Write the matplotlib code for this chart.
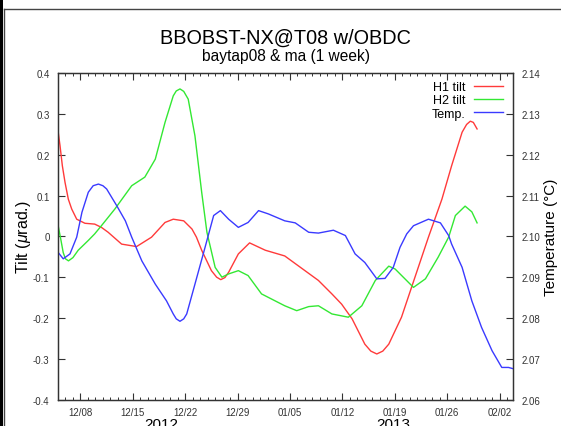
import datetime

import numpy as np
import matplotlib
matplotlib.use('Agg')
import matplotlib.pyplot as plt
import matplotlib.dates as mdates
from matplotlib.lines import Line2D
from matplotlib.patches import Rectangle

plt.rcParams['font.family'] = ['Liberation Sans', 'DejaVu Sans']
plt.rcParams['mathtext.fontset'] = 'custom'
plt.rcParams['mathtext.it'] = 'Liberation Sans:italic'
plt.rcParams['mathtext.rm'] = 'Liberation Sans'

START = datetime.datetime(2012, 12, 5)

# days after 12/05 00:00
h1_days = [0.0, 0.27, 0.58, 0.94, 1.38, 1.83, 2.5, 3.6, 4.9, 5.8, 6.7, 8.5, 10.5,
           12.5, 14.3, 15.4, 16.8, 17.9, 18.5, 19.2, 20.5, 21.2, 21.75, 22.3, 22.8,
           24.1, 25.6, 27.7, 30.3, 33.0, 34.8, 36.6, 37.9, 39.3, 41.0, 41.8, 42.6,
           43.4, 44.2, 45.9, 47.7, 49.5, 51.3, 52.6, 54.0, 54.6, 55.1, 55.5, 56.0]
h1_tilt = [0.259, 0.222, 0.173, 0.132, 0.091, 0.067, 0.042, 0.032, 0.030, 0.022,
           0.010, -0.019, -0.025, -0.002, 0.034, 0.042, 0.038, 0.018, -0.002, -0.034,
           -0.084, -0.100, -0.106, -0.101, -0.088, -0.043, -0.016, -0.034, -0.048,
           -0.084, -0.108, -0.141, -0.166, -0.202, -0.264, -0.281, -0.288, -0.281,
           -0.264, -0.198, -0.100, -0.002, 0.091, 0.173, 0.255, 0.274, 0.282, 0.279,
           0.263]

h2_days = [0.0, 0.35, 0.7, 1.0, 1.4, 2.0, 2.7, 4.05, 4.9, 5.8, 7.6, 9.85, 11.6,
           13.0, 14.3, 15.4, 15.8, 16.3, 16.8, 17.4, 18.3, 19.2, 19.9, 21.0, 21.9,
           22.8, 24.1, 25.4, 27.2, 30.3, 31.9, 33.5, 34.8, 36.6, 38.8, 40.6, 42.4,
           44.2, 45.05, 47.5, 49.1, 50.8, 52.2, 53.1, 54.4, 55.3, 56.0]
h2_tilt = [0.028, -0.005, -0.040, -0.055, -0.060, -0.052, -0.034, -0.010, 0.006,
           0.026, 0.067, 0.124, 0.145, 0.189, 0.279, 0.344, 0.356, 0.361, 0.355,
           0.336, 0.246, 0.108, 0.010, -0.076, -0.100, -0.092, -0.084, -0.096,
           -0.141, -0.170, -0.182, -0.172, -0.170, -0.190, -0.198, -0.170, -0.108,
           -0.073, -0.080, -0.125, -0.104, -0.051, -0.002, 0.051, 0.074, 0.060, 0.033]

temp_days = [0.0, 0.7, 1.6, 2.5, 3.2, 4.05, 4.7, 5.4, 6.0, 6.5, 7.85, 9.0, 9.85,
             11.2, 13.0, 14.5, 15.4, 15.8, 16.3, 16.8, 17.2, 18.3, 19.65, 20.8, 21.7,
             22.8, 24.1, 25.4, 26.8, 28.1, 30.3, 31.7, 33.5, 34.8, 36.8, 38.4, 39.7,
             41.0, 42.6, 43.7, 44.8, 45.7, 46.6, 47.5, 49.5, 51.1, 52.2, 52.6, 54.0,
             55.3, 56.6, 58.0, 59.3, 60.2, 60.8]
temp_c = [2.0961, 2.0945, 2.0957, 2.0998, 2.1059, 2.1108, 2.1124, 2.1128, 2.1124,
          2.1116, 2.1075, 2.1038, 2.0998, 2.0940, 2.0883, 2.0842, 2.0810, 2.0798,
          2.0792, 2.0798, 2.0810, 2.0883, 2.0973, 2.1051, 2.1063, 2.1042, 2.1022,
          2.1034, 2.1063, 2.1055, 2.1038, 2.1033, 2.1010, 2.1008, 2.1015, 2.1002,
          2.0957, 2.0936, 2.0896, 2.0897, 2.0924, 2.0973, 2.1006, 2.1026, 2.1042,
          2.1033, 2.1002, 2.0981, 2.0924, 2.0842, 2.0777, 2.0720, 2.0679, 2.0679,
          2.0676]

W, H = 561, 427


def to_dates(days):
    return [START + datetime.timedelta(days=d) for d in days]


fig = plt.figure(figsize=(W / 100, H / 100), dpi=100)
fig.subplots_adjust(left=58 / W, right=513 / W, top=1 - 74 / H, bottom=1 - 400.7 / H)
ax = fig.add_subplot(111)
ax2 = ax.twinx()

l1, = ax.plot(to_dates(h1_days), h1_tilt, color='#ff3a3a', lw=1, label='H1 tilt')
l2, = ax.plot(to_dates(h2_days), h2_tilt, color='#33e833', lw=1, label='H2 tilt')
l3, = ax2.plot(to_dates(temp_days), temp_c, color='#3a3aff', lw=1, label='Temp.')

ax.set_xlim(START, START + datetime.timedelta(days=60.8))
ax.set_ylim(-0.4, 0.4)
ax2.set_ylim(2.06, 2.14)
ax.set_yticks(np.arange(-0.4, 0.41, 0.1))
ax.set_yticklabels(['-0.4', '-0.3', '-0.2', '-0.1', '0', '0.1', '0.2', '0.3', '0.4'])
ax2.set_yticks([2.06, 2.07, 2.08, 2.09, 2.10, 2.11, 2.12, 2.13, 2.14])
ax2.set_yticklabels(['2.06', '2.07', '2.08', '2.09', '2.10', '2.11', '2.12', '2.13', '2.14'])

ax.xaxis.set_major_locator(mdates.WeekdayLocator(byweekday=mdates.SA))
ax.xaxis.set_minor_locator(mdates.DayLocator())
ax.xaxis.set_major_formatter(mdates.DateFormatter('%m/%d'))

for a in (ax, ax2):
    for s in a.spines.values():
        s.set_color('#333333')
        s.set_linewidth(0.9)
ax.tick_params(axis='x', which='major', direction='in', length=5, width=0.8,
               top=True, labelsize=7, colors='#333333', pad=5)
ax.tick_params(axis='x', which='minor', direction='in', length=2.5, width=0.7,
               top=True, colors='#333333')
ax.tick_params(axis='y', direction='in', length=5, width=0.8, right=False,
               labelsize=7, colors='#333333', pad=6)
ax2.tick_params(axis='y', direction='in', length=5, width=0.8,
                labelsize=7, colors='#333333', pad=6)

ax.set_ylabel('Tilt ($\\mu$rad.)', fontsize=11.5, labelpad=0)
ax2.set_ylabel('Temperature (°C)', fontsize=11, labelpad=3)

ax.legend([l1, l2, l3], ['H1 tilt', 'H2 tilt', 'Temp.'], loc='upper right',
          frameon=False, markerfirst=False, fontsize=9, handlelength=2.3,
          handletextpad=0.7, labelspacing=0.1, borderaxespad=0.25,
          bbox_to_anchor=(0.995, 1.0))

fig.text(285.5 / W, 1 - 38 / H, 'BBOBST-NX@T08 w/OBDC', ha='center', va='center', fontsize=14.3)
fig.text(285.5 / W, 1 - 57 / H, 'baytap08 & ma (1 week)', ha='center', va='center', fontsize=11.2)
fig.text(161 / W, 1 - 418 / H, '2012', ha='center', va='top', fontsize=11)
fig.text(393 / W, 1 - 418 / H, '2013', ha='center', va='top', fontsize=11)

# border of the original window
fig.add_artist(Rectangle((0, 0), 2.5 / W, 1, transform=fig.transFigure,
                         color='black', lw=0))
fig.add_artist(Line2D([3.5 / W, 1], [1 - 10 / H, 1 - 10 / H], transform=fig.transFigure,
                      color='#444444', lw=1))
fig.add_artist(Line2D([3.5 / W, 3.5 / W], [0, 1 - 10 / H], transform=fig.transFigure,
                      color='#444444', lw=1))

fig.savefig('out.png', dpi=100)
